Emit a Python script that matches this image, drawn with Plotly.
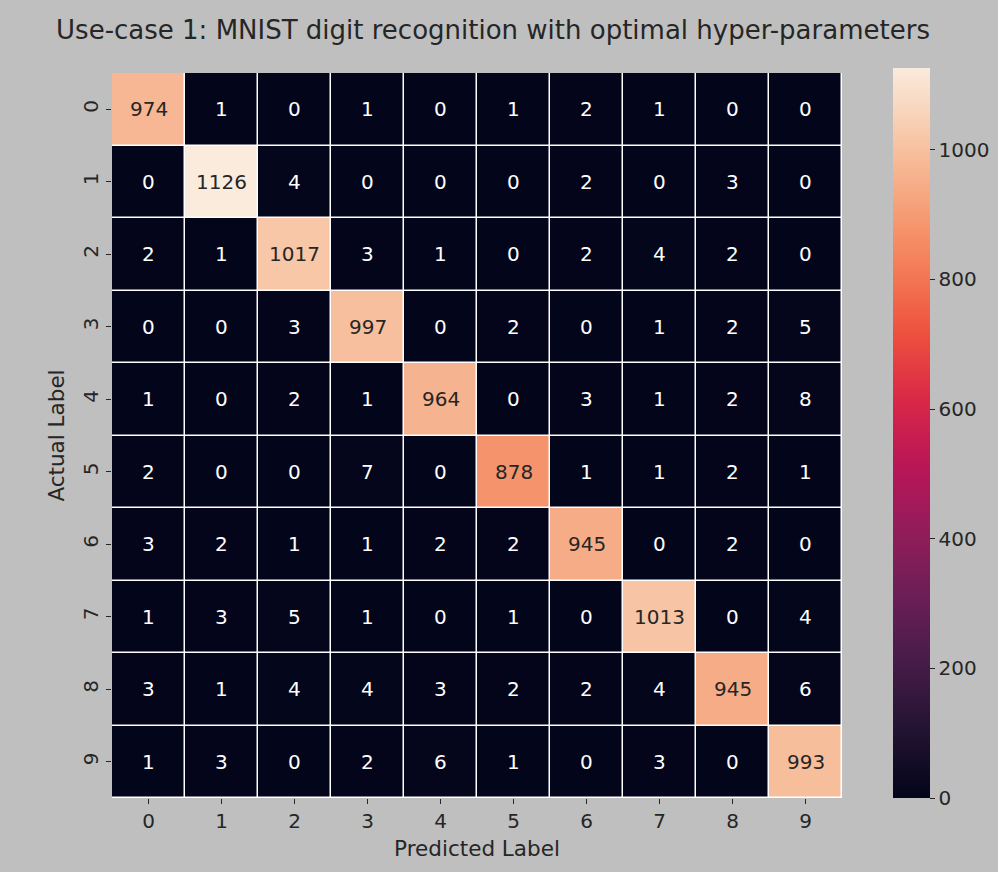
import plotly.graph_objects as go

# Confusion matrix for the MNIST test set (rows: actual, cols: predicted)
labels = ["0", "1", "2", "3", "4", "5", "6", "7", "8", "9"]
row_0 = [974, 1, 0, 1, 0, 1, 2, 1, 0, 0]
row_1 = [0, 1126, 4, 0, 0, 0, 2, 0, 3, 0]
row_2 = [2, 1, 1017, 3, 1, 0, 2, 4, 2, 0]
row_3 = [0, 0, 3, 997, 0, 2, 0, 1, 2, 5]
row_4 = [1, 0, 2, 1, 964, 0, 3, 1, 2, 8]
row_5 = [2, 0, 0, 7, 0, 878, 1, 1, 2, 1]
row_6 = [3, 2, 1, 1, 2, 2, 945, 0, 2, 0]
row_7 = [1, 3, 5, 1, 0, 1, 0, 1013, 0, 4]
row_8 = [3, 1, 4, 4, 3, 2, 2, 4, 945, 6]
row_9 = [1, 3, 0, 2, 6, 1, 0, 3, 0, 993]
matrix = [row_0, row_1, row_2, row_3, row_4, row_5, row_6, row_7, row_8, row_9]
colorbar_ticks = [0, 200, 400, 600, 800, 1000]

# "rocket" colormap sampled at evenly spaced stops
rocket = ["#03051A", "#221331", "#451C47", "#691F55", "#921C5B", "#B91657",
          "#D92847", "#ED513E", "#F47D57", "#F6A47C", "#F7C9AA", "#FAEBDD"]
colorscale = [[i / (len(rocket) - 1), c] for i, c in enumerate(rocket)]

zmax = max(max(r) for r in matrix)
font_family = "DejaVu Sans"
text_dark = "#262626"
bg = "#bfbfbf"
tick_size = 20
label_size = 21.5

fig = go.Figure(
    go.Heatmap(
        z=matrix,
        x=labels,
        y=labels,
        zmin=0,
        zmax=zmax,
        colorscale=colorscale,
        xgap=1.5,
        ygap=1.5,
        hoverongaps=False,
        colorbar=dict(
            thickness=37,
            lenmode="pixels",
            len=730,
            x=(893 - 112) / 730,
            xanchor="left",
            y=0,
            yanchor="bottom",
            ypad=0,
            xpad=0,
            outlinewidth=0,
            tickvals=colorbar_ticks,
            ticks="outside",
            ticklen=5,
            tickcolor=text_dark,
            tickfont=dict(family=font_family, size=tick_size, color=text_dark),
        ),
    )
)

# Cell value annotations, light text on dark cells and dark text on light cells
for i, row in enumerate(matrix):
    for j, v in enumerate(row):
        fig.add_annotation(
            x=labels[j],
            y=labels[i],
            text=str(v),
            showarrow=False,
            font=dict(family=font_family, size=20,
                      color=text_dark if v / zmax > 0.55 else "#ffffff"),
        )

fig.update_xaxes(
    title=dict(text="Predicted Label", font=dict(family=font_family, size=label_size, color=text_dark), standoff=8),
    tickfont=dict(family=font_family, size=tick_size, color=text_dark),
    ticks="outside", ticklen=5, tickcolor=text_dark,
    showgrid=False, zeroline=False,
    range=[-0.5, 9.5],
)
fig.update_yaxes(
    title=dict(text="Actual Label", font=dict(family=font_family, size=label_size, color=text_dark), standoff=8),
    tickfont=dict(family=font_family, size=tick_size, color=text_dark),
    ticks="outside", ticklen=5, tickcolor=text_dark, tickangle=-90,
    showgrid=False, zeroline=False,
    autorange="reversed",
)

fig.update_layout(
    width=998,
    height=872,
    paper_bgcolor=bg,
    plot_bgcolor="#ffffff",
    margin=dict(l=112, r=156, t=73, b=74, autoexpand=False),
    title=dict(
        text="Use-case 1: MNIST digit recognition with optimal hyper-parameters",
        font=dict(family=font_family, size=26, color=text_dark),
        x=493 / 998,
        xanchor="center",
        xref="container",
        y=1 - 30 / 872,
        yanchor="middle",
        yref="container",
    ),
)

fig.write_html("out.html")
